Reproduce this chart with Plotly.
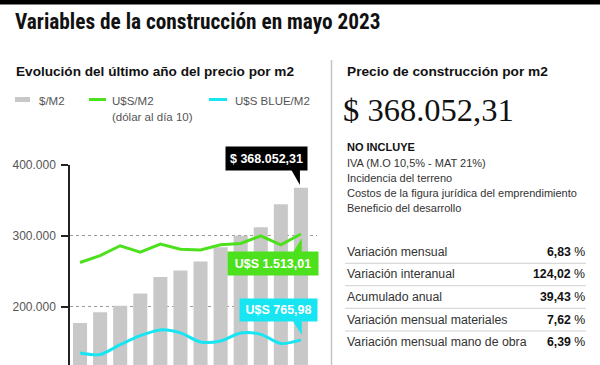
import plotly.graph_objects as go

# ---------------- data ----------------
meses = ["jun-22", "jul-22", "ago-22", "sep-22", "oct-22", "nov-22",
         "dic-22", "ene-23", "feb-23", "mar-23", "abr-23", "may-23"]
precio_m2 = [177000, 192000, 201500, 218800, 241800, 251000,
             263970, 284000, 300000, 312000, 344521, 368052.31]
usd_m2 = [1312, 1361, 1430, 1385, 1442, 1406, 1401, 1437, 1446, 1500, 1437, 1513.01]
usd_blue_m2 = [673, 662, 732, 796, 836, 815, 751, 758, 815, 805, 740, 765.98]
y_tickvals = [200000, 300000, 400000]
y_ticktext = ["200.000", "300.000", "400.000"]
no_incluye = ["IVA (M.O 10,5% - MAT 21%)", "Incidencia del terreno",
              "Costos de la figura jurídica del emprendimiento", "Beneficio del desarrollo"]
tabla_labels = ["Variación mensual", "Variación interanual", "Acumulado anual",
                "Variación mensual materiales", "Variación mensual mano de obra"]
tabla_valores = ["6,83 %", "124,02 %", "39,43 %", "7,62 %", "6,39 %"]
label_precio = "$ 368.052,31"
label_usd = "U$S 1.513,01"
label_blue = "U$S 765,98"

# ---------------- geometry / style ----------------
W, H = 600, 365
ML, MR, MT, MB = 70, 283, 165, 0
PW, PH = W - ML - MR, H - MT - MB
PX_PER_100K = 70.85
Y_TOP = 400000
y_range = [Y_TOP - PH / PX_PER_100K * 100000, Y_TOP]
USD_SCALE = 200  # secondary axis: 1 U$S ~ 200 $
y2_range = [v / USD_SCALE for v in y_range]

GRAY_BAR = "#c8c8c8"
GREEN = "#4de01c"
CYAN = "#17e5f2"
SANS = "Liberation Sans, Arial, sans-serif"
NARROW = "Liberation Sans Narrow, Roboto Condensed, Arial Narrow, sans-serif"
SERIF = "Liberation Serif, Times New Roman, serif"


def fx(px):
    return (px - ML) / PW


def fy(py):
    return (H - MB - py) / PH


fig = go.Figure()
fig.add_trace(go.Bar(x=meses, y=precio_m2, marker_color=GRAY_BAR, marker_line_width=0,
                     name="$/M2", yaxis="y"))
fig.add_trace(go.Scatter(x=meses, y=usd_m2, mode="lines", line=dict(color=GREEN, width=3),
                         name="U$S/M2", yaxis="y2"))
fig.add_trace(go.Scatter(x=meses, y=usd_blue_m2, mode="lines",
                         line=dict(color=CYAN, width=3, shape="spline", smoothing=0.8),
                         name="U$S BLUE/M2", yaxis="y2"))

ann = []
shapes = []

# Title / subtitles
ann.append(dict(text="<b>Variables de la construcción en mayo 2023</b>", x=fx(13), y=fy(21),
                xanchor="left", yanchor="middle", font=dict(family=NARROW, size=21.3, color="#111")))
ann.append(dict(text="<b>Evolución del último año del precio por m2</b>", x=fx(14), y=fy(72),
                xanchor="left", yanchor="middle", font=dict(family=SANS, size=13.6, color="#111")))
ann.append(dict(text="<b>Precio de construcción por m2</b>", x=fx(345), y=fy(72),
                xanchor="left", yanchor="middle", font=dict(family=SANS, size=13.7, color="#111")))

# Legend (custom)
leg_font = dict(family=SANS, size=11.5, color="#555")
shapes.append(dict(type="rect", xref="paper", yref="paper", x0=fx(15), x1=fx(30), y0=fy(102), y1=fy(97),
                   fillcolor=GRAY_BAR, line_width=0))
ann.append(dict(text="$/M2", x=fx(37), y=fy(101), xanchor="left", yanchor="middle", font=leg_font))
shapes.append(dict(type="line", xref="paper", yref="paper", x0=fx(89), x1=fx(106), y0=fy(99.5), y1=fy(99.5),
                   line=dict(color=GREEN, width=3)))
ann.append(dict(text="U$S/M2", x=fx(110), y=fy(101), xanchor="left", yanchor="middle", font=leg_font))
ann.append(dict(text="(dólar al día 10)", x=fx(110), y=fy(117), xanchor="left", yanchor="middle", font=leg_font))
shapes.append(dict(type="line", xref="paper", yref="paper", x0=fx(209), x1=fx(227), y0=fy(99.5), y1=fy(99.5),
                   line=dict(color=CYAN, width=3)))
ann.append(dict(text="U$S BLUE/M2", x=fx(233), y=fy(101), xanchor="left", yanchor="middle", font=leg_font))

# top black band and divider
shapes.append(dict(type="rect", xref="paper", yref="paper", x0=fx(0), x1=fx(W), y0=fy(4.5), y1=fy(0),
                   fillcolor="#000", line_width=0, layer="above"))
shapes.append(dict(type="line", xref="paper", yref="paper", x0=fx(331.5), x1=fx(331.5), y0=fy(60), y1=fy(H),
                   line=dict(color="#c4c4c4", width=1.5)))

# Right panel
ann.append(dict(text=label_precio, x=fx(341), y=fy(110), xanchor="left", yanchor="middle",
                font=dict(family=SERIF, size=32.5, color="#111")))
ann.append(dict(text="<b>NO INCLUYE</b>", x=fx(345), y=fy(147), xanchor="left", yanchor="middle",
                font=dict(family=SANS, size=11, color="#111")))
for i, t in enumerate(no_incluye):
    ann.append(dict(text=t, x=fx(345), y=fy(162.7 + 15 * i), xanchor="left", yanchor="middle",
                    font=dict(family=SANS, size=11, color="#333")))
row_y = [252.3, 274.3, 297.0, 319.8, 341.7]
for i, (lab, val) in enumerate(zip(tabla_labels, tabla_valores)):
    ann.append(dict(text=lab, x=fx(345), y=fy(row_y[i]), xanchor="left", yanchor="middle",
                    font=dict(family=SANS, size=12.3, color="#333")))
    num, pct = val.split(" ")
    ann.append(dict(text=f"<b>{num}</b> {pct}", x=fx(587), y=fy(row_y[i]), xanchor="right", yanchor="middle",
                    font=dict(family=SANS, size=12.3, color="#111")))
for sy in [263.3, 285.7, 308.3, 331.0]:
    shapes.append(dict(type="line", xref="paper", yref="paper", x0=fx(345), x1=fx(586), y0=fy(sy), y1=fy(sy),
                       line=dict(color="#d0d0d0", width=1)))

# Callouts anchored at last data points
last = len(meses) - 1
call_font = dict(family=SANS, size=12.5, color="#fff")
ann.append(dict(text=f"<b>{label_precio}</b>", xref="x", yref="y", x=meses[last], y=precio_m2[last],
                xshift=-34.6, yshift=29.1, xanchor="center", yanchor="middle", showarrow=False,
                bgcolor="#000", width=81, height=23, borderpad=0, font=call_font))
shapes.append(dict(type="path", xref="x", yref="y", xsizemode="pixel", ysizemode="pixel",
                   xanchor=last, yanchor=precio_m2[last],
                   path="M -10,18.5 L -1,18.5 L -1,2.7 Z", fillcolor="#000", line_width=0, layer="above"))

ann.append(dict(text=f"<b>{label_usd}</b>", xref="x", yref="y2", x=meses[last], y=usd_m2[last],
                xshift=-28.4, yshift=-29.7, xanchor="center", yanchor="middle", showarrow=False,
                bgcolor=GREEN, width=90, height=23, borderpad=0, font=call_font))
shapes.append(dict(type="path", xref="x", yref="y2", xsizemode="pixel", ysizemode="pixel",
                   xanchor=last, yanchor=usd_m2[last],
                   path="M -8,-18.5 L 0.8,-18.5 L 0.8,-4.3 Z", fillcolor=GREEN, line_width=0, layer="above"))

ann.append(dict(text=f"<b>{label_blue}</b>", xref="x", yref="y2", x=meses[last], y=usd_blue_m2[last],
                xshift=-22.6, yshift=29.4, xanchor="center", yanchor="middle", showarrow=False,
                bgcolor=CYAN, width=77, height=22, borderpad=0, font=call_font))
shapes.append(dict(type="path", xref="x", yref="y2", xsizemode="pixel", ysizemode="pixel",
                   xanchor=last, yanchor=usd_blue_m2[last],
                   path="M -8,18.5 L 0.8,18.5 L 0.8,4.9 Z", fillcolor=CYAN, line_width=0, layer="above"))

for a in ann:
    a.setdefault("xref", "paper")
    a.setdefault("yref", "paper")
    a.setdefault("showarrow", False)

fig.update_layout(
    width=W, height=H,
    margin=dict(l=ML, r=MR, t=MT, b=MB, pad=0, autoexpand=False),
    paper_bgcolor="#fff", plot_bgcolor="#fff",
    showlegend=False,
    bargap=0.3,
    xaxis=dict(range=[-0.5, 11.8], showticklabels=False, showgrid=False, zeroline=False,
               showline=False, ticks="", automargin=False),
    yaxis=dict(range=y_range, tickvals=y_tickvals, ticktext=y_ticktext,
               showgrid=True, gridcolor="#9a9a9a", griddash="dot", gridwidth=1,
               zeroline=False, showline=True, linecolor="#222", linewidth=1.5,
               ticks="outside", ticklen=7, tickcolor="#222", tickwidth=1.5,
               ticklabelstandoff=3, automargin=False,
               tickfont=dict(family=SANS, size=12, color="#555")),
    yaxis2=dict(range=y2_range, overlaying="y", side="right", visible=False, showgrid=False),
    annotations=ann,
    shapes=shapes,
)

fig.write_html("out.html", config={"displayModeBar": False},
               post_script="document.body.style.margin='0';document.body.style.overflow='hidden';")
